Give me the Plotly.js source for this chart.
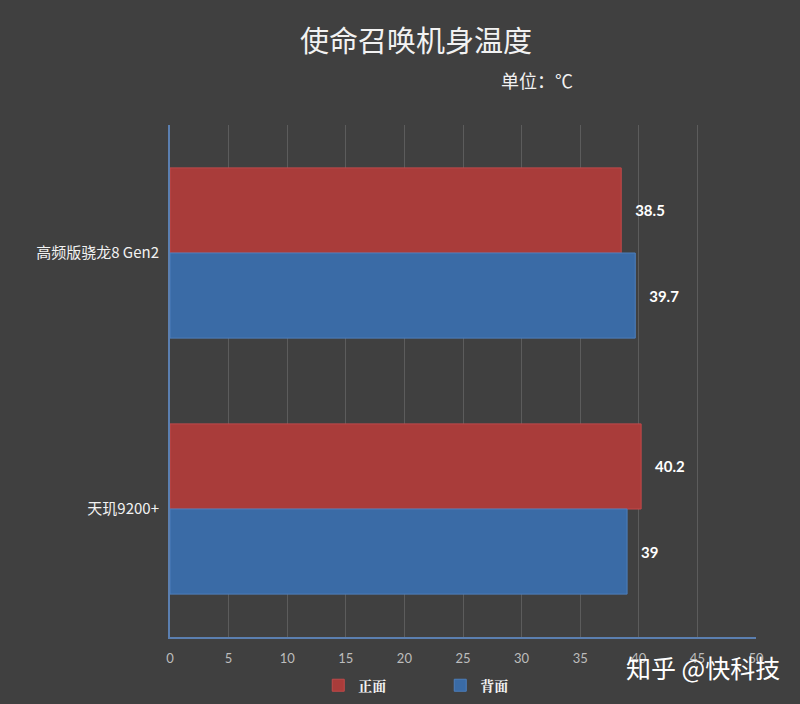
<!DOCTYPE html>
<html>
<head>
<meta charset="utf-8">
<script src="https://cdn.plot.ly/plotly-3.0.1.min.js"></script>
<style>html,body{margin:0;padding:0;background:#404040;}#chart{width:800px;height:704px;}</style>
</head>
<body>
<div id="chart"></div>
<script>
const categories = ["高频版骁龙8 Gen2", "天玑9200+"];
const seriesNames = ["正面", "背面"];
const frontValues = [38.5, 40.2];
const backValues = [39.7, 39];
const xTicks = [0, 5, 10, 15, 20, 25, 30, 35, 40, 45, 50];

const CJK = '"Noto Sans CJK SC", "Noto Sans", sans-serif';

const traces = [
  {
    type: 'bar', orientation: 'h', name: seriesNames[0],
    y: categories, x: frontValues,
    marker: {color: '#a93c3a', line: {color: '#c0494a', width: 1}},
    text: frontValues.map(v => '   ' + v), textposition: 'outside', cliponaxis: false,
    textfont: {color: '#ffffff', size: 15, family: 'Lato, "Noto Sans", sans-serif', weight: 'bold'},
    hoverinfo: 'none'
  },
  {
    type: 'bar', orientation: 'h', name: seriesNames[1],
    y: categories, x: backValues,
    marker: {color: '#3a6ba6', line: {color: '#4d7fbc', width: 1}},
    text: backValues.map(v => '   ' + v), textposition: 'outside', cliponaxis: false,
    textfont: {color: '#ffffff', size: 15, family: 'Lato, "Noto Sans", sans-serif', weight: 'bold'},
    hoverinfo: 'none'
  }
];

const layout = {
  width: 800, height: 704,
  paper_bgcolor: '#404040', plot_bgcolor: '#404040',
  margin: {l: 170, r: 44, t: 125, b: 67, autoexpand: false},
  barmode: 'group', bargap: 0.335, bargroupgap: 0,
  showlegend: true,
  title: {text: '使命召唤机身温度', font: {family: CJK, size: 29, color: '#f2f2f2'},
          x: 0.52, xanchor: 'center', y: 0.94, yanchor: 'middle'},
  xaxis: {
    range: [0, 50], tickvals: xTicks, ticktext: xTicks.map(String),
    showgrid: true, gridcolor: '#5c5c5c', gridwidth: 1,
    zeroline: false, showline: true, linecolor: '#5b7fb0', linewidth: 2,
    ticks: '', tickfont: {family: 'Lato, "Noto Sans", sans-serif', size: 13, color: '#bdbdbd'},
    ticklabelstandoff: 8, fixedrange: true
  },
  yaxis: {
    type: 'category', categoryorder: 'array', categoryarray: categories,
    autorange: 'reversed', showgrid: false, zeroline: false,
    showline: true, linecolor: '#5b7fb0', linewidth: 2, ticks: '',
    tickfont: {family: CJK, size: 15, color: '#f2f2f2'},
    ticklabelstandoff: 6, fixedrange: true
  },
  legend: {
    orientation: 'h', x: 0.253, xanchor: 'left', y: -0.095, yanchor: 'middle',
    font: {family: '"Noto Serif CJK SC", "Noto Sans CJK SC", serif', size: 14, color: '#f2f2f2', weight: 'bold'},
    bgcolor: 'rgba(0,0,0,0)', entrywidth: 77, entrywidthmode: 'pixels', itemwidth: 30
  },
  annotations: [
    {text: '单位：℃', xref: 'paper', yref: 'paper', x: 0.562, y: 1.088, xanchor: 'left', yanchor: 'middle',
     showarrow: false, font: {family: CJK, size: 18, color: '#f2f2f2'}},
    {text: '知乎 @快科技', xref: 'paper', yref: 'paper', x: 1.045, y: -0.058, xanchor: 'right', yanchor: 'middle',
     showarrow: false, font: {family: CJK, size: 25, color: '#ffffff'}}
  ]
};

Plotly.newPlot('chart', traces, layout, {displayModeBar: false, staticPlot: true});
</script>
</body>
</html>
